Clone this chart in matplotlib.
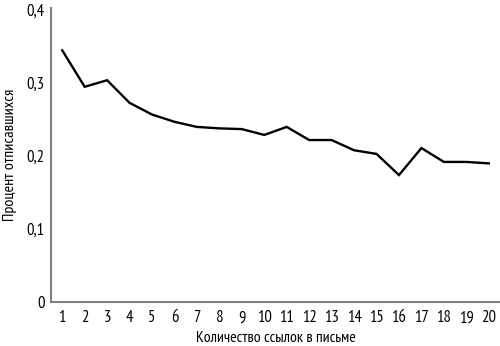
import matplotlib
matplotlib.use("Agg")
import matplotlib.pyplot as plt

links = list(range(1, 21))
unsub = [0.345, 0.295, 0.304, 0.273, 0.257, 0.247, 0.240, 0.238, 0.237, 0.229,
         0.240, 0.222, 0.222, 0.208, 0.203, 0.174, 0.211, 0.192, 0.192, 0.190]
yticks = [0, 0.1, 0.2, 0.3, 0.4]
ytick_labels = ["0", "0,1", "0,2", "0,3", "0,4"]
xlabel = "Количество ссылок в письме"
ylabel = "Процент отписавшихся"

plt.rcParams['font.family'] = ['PT Sans Narrow', 'DejaVu Sans']

W, H = 500, 346
fig = plt.figure(figsize=(W / 100, H / 100), dpi=100)
ax = fig.add_axes([51 / W, (H - 302) / H, (W - 51) / W, (302 - 8) / H])
ax.plot(links, unsub, color="black", linewidth=1.7, solid_joinstyle="miter")
ax.set_xlim(0.5, 20.5)
ax.set_ylim(0, 0.403)
ax.set_xticks(links)
ax.set_xticklabels([str(v) for v in links])
ax.set_yticks(yticks)
ax.set_yticklabels(ytick_labels)
ax.tick_params(length=0, labelsize=12, colors="black")
ax.tick_params(axis='x', pad=6)
ax.tick_params(axis='y', pad=4.5)
for s in ["top", "right"]:
    ax.spines[s].set_visible(False)
for s in ["left", "bottom"]:
    ax.spines[s].set_color("#808080")
    ax.spines[s].set_linewidth(1.5)
fig.text(276 / W, 1 - 338 / H, xlabel, fontsize=11.3, ha="center", va="center")
fig.text(10 / W, 1 - 155 / H, ylabel, fontsize=11.5, ha="center", va="center", rotation=90)
fig.savefig("out.png", dpi=100)
